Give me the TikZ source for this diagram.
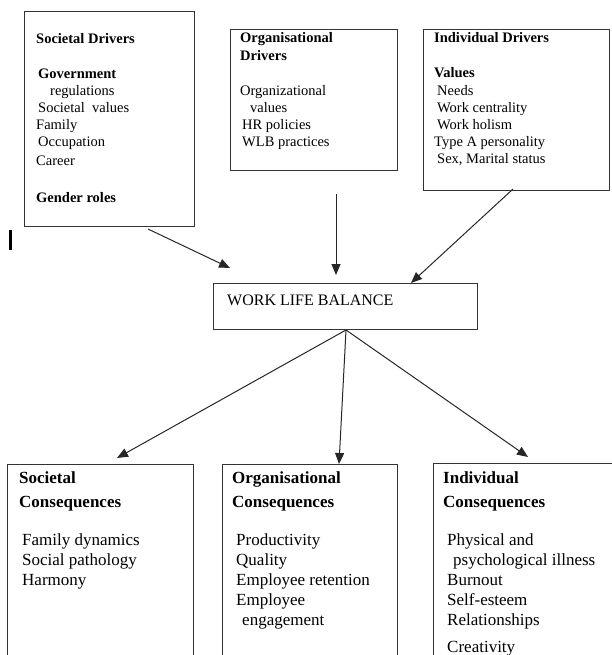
\documentclass[tikz,border=0pt]{standalone}
\usepackage{fontspec}
\setmainfont{Liberation Serif}
\usetikzlibrary{arrows.meta}
\begin{document}
\begin{tikzpicture}[x=1pt,y=-1pt,
  box/.style={draw=black!80, line width=1.1pt, inner sep=0pt, anchor=north west},
  tt/.style={inner sep=0pt, anchor=base west, font=\fontsize{14.5}{17}\selectfont},
  bt/.style={inner sep=0pt, anchor=base west, font=\fontsize{17}{20}\selectfont},
  arr/.style={draw=black!85, line width=1pt, -{Triangle[length=11pt,width=9pt]}}]
\useasboundingbox (0,0) rectangle (611,655);
% boxes
\node[box, minimum width=170pt, minimum height=215pt] (sd) at (24,11) {};
\node[box, minimum width=167pt, minimum height=141pt] (od) at (230,29) {};
\node[box, minimum width=186pt, minimum height=161pt] (id) at (423,29) {};
\node[box, minimum width=264pt, minimum height=46pt] (wlb) at (213,283) {};
\node[box, minimum width=186pt, minimum height=200pt] (sc) at (7,464) {};
\node[box, minimum width=175pt, minimum height=200pt] (oc) at (222,464) {};
\node[box, minimum width=190pt, minimum height=200pt] (ic) at (433,463) {};
% stray bar
\draw[line width=2.5pt] (10.5,230) -- (10.5,250);
% texts top
\foreach \x/\y/\t [count=\i] in {36/44/{\bfseries Societal Drivers}, 38/79/{\bfseries Government}, 50/96/{regulations}, 38/113/{Societal\ \ values}, 36/130/{Family}, 38/147/{Occupation}, 36/165/{Career}, 36/202/{\bfseries Gender roles}}
  \node[tt] (sdt\i) at (\x,\y) {\t};
\foreach \x/\y/\t [count=\i] in {240/43/{\bfseries Organisational}, 240/61/{\bfseries Drivers}, 240/96/{Organizational}, 250/113/{values}, 242/130/{HR policies}, 242/147/{WLB practices}}
  \node[tt] (odt\i) at (\x,\y) {\t};
\foreach \x/\y/\t [count=\i] in {434/43/{\bfseries Individual Drivers}, 434/78/{\bfseries Values}, 437/96/{Needs}, 437/113/{Work centrality}, 437/130/{Work holism}, 434/147/{Type A personality}, 437/164/{Sex, Marital status}}
  \node[tt] (idt\i) at (\x,\y) {\t};
% WLB text
\node[inner sep=0pt, anchor=base west, font=\fontsize{16}{19}\selectfont] (wlbt) at (227,305) {WORK LIFE BALANCE};
% texts bottom
\foreach \x/\y/\t [count=\i] in {19/483/{\bfseries Societal}, 19/507/{\bfseries Consequences}, 22/545/{Family dynamics}, 22/565/{Social pathology}, 22/585/{Harmony}}
  \node[bt] (sct\i) at (\x,\y) {\t};
\foreach \x/\y/\t [count=\i] in {232/483/{\bfseries Organisational}, 232/507/{\bfseries Consequences}, 236/545/{Productivity}, 236/565/{Quality}, 236/585/{Employee retention}, 236/605/{Employee}, 242/625/{engagement}}
  \node[bt] (oct\i) at (\x,\y) {\t};
\foreach \x/\y/\t [count=\i] in {443/483/{\bfseries Individual}, 443/507/{\bfseries Consequences}, 447/545/{Physical and}, 453/565/{psychological illness}, 447/585/{Burnout}, 447/605/{Self-esteem}, 447/625/{Relationships}, 447/652/{Creativity}}
  \node[bt] (ict\i) at (\x,\y) {\t};
% arrow end points
\coordinate (a1s) at (148,229);
\coordinate (a1e) at (230,268);
\coordinate (a2s) at (336,194);
\coordinate (a2e) at (336,275);
\coordinate (a3s) at (513,189);
\coordinate (a3e) at (411,283);
\coordinate (wb) at (346,330);
\coordinate (b1e) at (117,458);
\coordinate (b2e) at (339,464);
\coordinate (b3e) at (528,457);
\draw[arr] (a1s) -- (a1e);
\draw[arr] (a2s) -- (a2e);
\draw[arr] (a3s) -- (a3e);
\draw[arr] (wb) -- (b1e);
\draw[arr] (wb) -- (b2e);
\draw[arr] (wb) -- (b3e);
\end{tikzpicture}
\end{document}
